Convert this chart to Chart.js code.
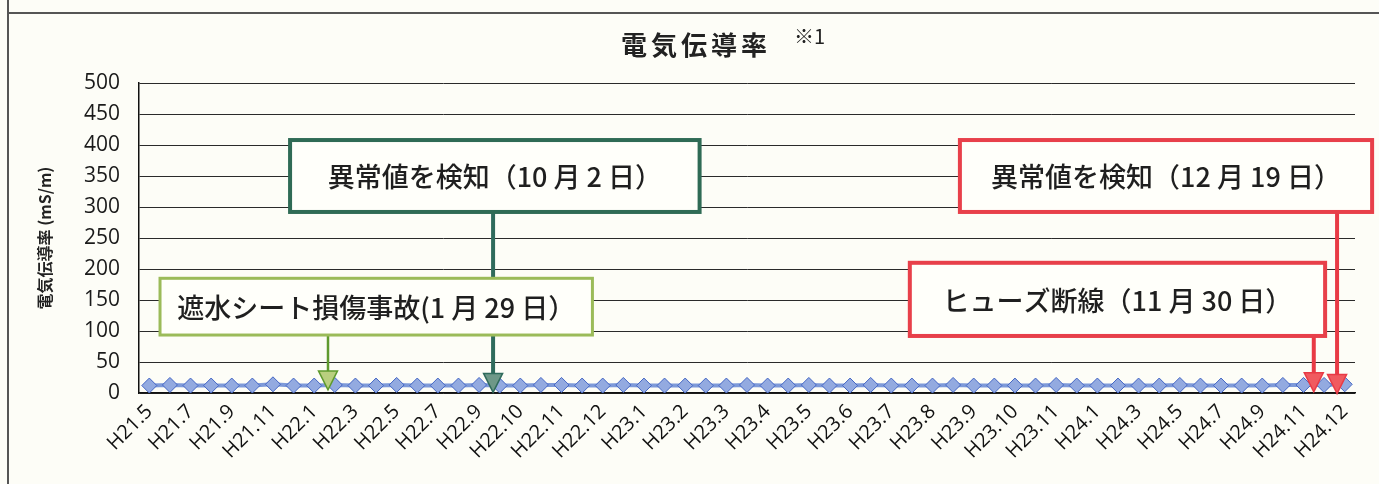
<!DOCTYPE html>
<html>
<head>
<meta charset="utf-8">
<script src="https://cdn.jsdelivr.net/npm/chart.js@4.4.1/dist/chart.umd.min.js"></script>
<style>
html,body{margin:0;padding:0;background:#FDFDF7;}
#wrap{position:relative;width:1379px;height:484px;}
</style>
</head>
<body>
<div id="wrap"><canvas id="c"></canvas></div>
<script>
// ---- data ----
const tickLabels = ['H21.5','H21.7','H21.9','H21.11','H22.1','H22.3','H22.5','H22.7','H22.9','H22.10',
  'H22.11','H22.12','H23.1','H23.2','H23.3','H23.4','H23.5','H23.6','H23.7','H23.8',
  'H23.9','H23.10','H23.11','H24.1','H24.3','H24.5','H24.7','H24.9','H24.11','H24.12'];
const conductivity = [12,13,12,12,12,12,14,12,12,13,
  12,12,13,12,12,12,13,12,12,13,
  13,12,12,13,12,12,12,12,12,13,
  12,12,13,12,12,13,12,12,12,13,
  12,12,12,12,13,12,12,12,12,12,
  13,12,12,12,12,13,13,13,14];
const yTicks = [0,50,100,150,200,250,300,350,400,450,500];
const chartTitle = '電気伝導率';
const titleNote = '※1';
const yTitle = '電気伝導率 (mS/m)';

// categories: a label on every second measurement
const categories = conductivity.map((v,i) => (i % 2 === 0 ? tickLabels[i/2] : ''));

// callouts (text, box in data coords, arrow target)
const callouts = [
  {text:'異常値を検知（10 月 2 日）', x0:6.83, x1:26.7, y0:408, y1:292, ax:16.68, aTo:1,
   border:'#2F6B55', bw:4, line:'#2F6B5C', lw:4, head:'#6E9888'},
  {text:'遮水シート損傷事故(1 月 29 日）', x0:0.52, x1:21.5, y0:185, y1:93.5, ax:8.67, aTo:5,
   border:'#9BBB59', bw:3, line:'#5F9A2E', lw:2.5, head:'#B9CF7E'},
  {text:'異常値を検知（12 月 19 日）', x0:39.33, x1:59.33, y0:408, y1:292, ax:57.63, aTo:-1,
   border:'#E8404A', bw:4, line:'#E83A45', lw:4, head:'#F05A5F'},
  {text:'ヒューズ断線（11 月 30 日）', x0:36.9, x1:57.05, y0:210, y1:92, ax:56.5, aTo:2,
   border:'#E8404A', bw:4, line:'#E83A45', lw:4, head:'#F05A5F'}
];

const deco = {
  id:'deco',
  beforeDraw(chart){
    const ctx = chart.ctx;
    ctx.save();
    ctx.fillStyle = '#FDFDF7';
    ctx.fillRect(0,0,chart.width,chart.height);
    ctx.strokeStyle = '#555';
    ctx.lineWidth = 2;
    ctx.beginPath();
    ctx.moveTo(8,13); ctx.lineTo(chart.width,13);
    ctx.moveTo(8,0); ctx.lineTo(8,chart.height);
    ctx.stroke();
    ctx.restore();
  },
  afterDatasetsDraw(chart){
    const ctx = chart.ctx;
    const xs = chart.scales.x, ys = chart.scales.y;
    ctx.save();
    callouts.forEach(c => {
      const L = xs.getPixelForValue(c.x0), R = xs.getPixelForValue(c.x1);
      const T = ys.getPixelForValue(c.y0), B = ys.getPixelForValue(c.y1);
      const ax = xs.getPixelForValue(c.ax), tip = ys.getPixelForValue(c.aTo);
      const hh = 19, hw = 9.5;
      ctx.strokeStyle = c.line; ctx.lineWidth = c.lw;
      ctx.beginPath(); ctx.moveTo(ax,B); ctx.lineTo(ax,tip-hh+2); ctx.stroke();
      ctx.fillStyle = c.head; ctx.strokeStyle = c.line; ctx.lineWidth = 1.5;
      ctx.beginPath(); ctx.moveTo(ax-hw,tip-hh); ctx.lineTo(ax+hw,tip-hh); ctx.lineTo(ax,tip); ctx.closePath();
      ctx.fill(); ctx.stroke();
      ctx.fillStyle = '#FFFFFA';
      ctx.fillRect(L,T,R-L,B-T);
      ctx.strokeStyle = c.border; ctx.lineWidth = c.bw;
      ctx.strokeRect(L,T,R-L,B-T);
      ctx.fillStyle = '#1f1f1f';
      ctx.font = '500 27px "Noto Sans CJK JP"';
      ctx.textAlign = 'center'; ctx.textBaseline = 'middle';
      ctx.fillText(c.text,(L+R)/2,(T+B)/2+1);
    });
    ctx.fillStyle = '#222';
    ctx.textAlign = 'left'; ctx.textBaseline = 'middle';
    ctx.font = 'bold 26px "Noto Sans CJK JP"';
    try { ctx.letterSpacing = '4px'; } catch(e) {}
    ctx.fillText(chartTitle, 621, 45);
    try { ctx.letterSpacing = '0px'; } catch(e) {}
    ctx.font = '20px "Noto Sans CJK JP"';
    ctx.fillText(titleNote, 794, 36);
    ctx.restore();
  }
};

new Chart(document.getElementById('c'), {
  type:'line',
  data:{
    labels: categories,
    datasets:[{
      data: conductivity,
      borderColor:'#7E9AD9',
      borderWidth:4,
      pointStyle:'rectRot',
      pointRadius:7.5,
      pointBackgroundColor:'#93AAE0',
      pointBorderColor:'#4466C4',
      pointBorderWidth:1,
      tension:0
    }]
  },
  options:{
    responsive:true,
    maintainAspectRatio:false,
    devicePixelRatio:1,
    animation:false,
    layout:{padding:{left:10,right:24,top:83,bottom:0}},
    plugins:{legend:{display:false},title:{display:false},tooltip:{enabled:false}},
    scales:{
      x:{
        offset:true,
        grid:{display:false, drawTicks:false},
        border:{display:true,color:'#111',width:1.5},
        ticks:{autoSkip:false,minRotation:45,maxRotation:45,padding:7,
          color:'#111',font:{family:'"Open Sans"',size:20}},
        afterFit(s){ s.height = 91; }
      },
      y:{
        min:0,max:500,
        afterBuildTicks(s){ s.ticks = yTicks.map(v=>({value:v})); },
        grid:{color:'#2a2a2a',lineWidth:1,drawTicks:false},
        border:{display:true,color:'#111',width:1.5},
        ticks:{padding:19,color:'#1a1a1a',font:{family:'"Open Sans"',size:21}},
        title:{display:true,text:yTitle,color:'#222',
          font:{family:'"Noto Sans CJK JP"',size:16,weight:'bold'},padding:{top:25,bottom:0}},
        afterFit(s){ s.width = 129; }
      }
    }
  },
  plugins:[deco]
});
</script>
</body>
</html>
